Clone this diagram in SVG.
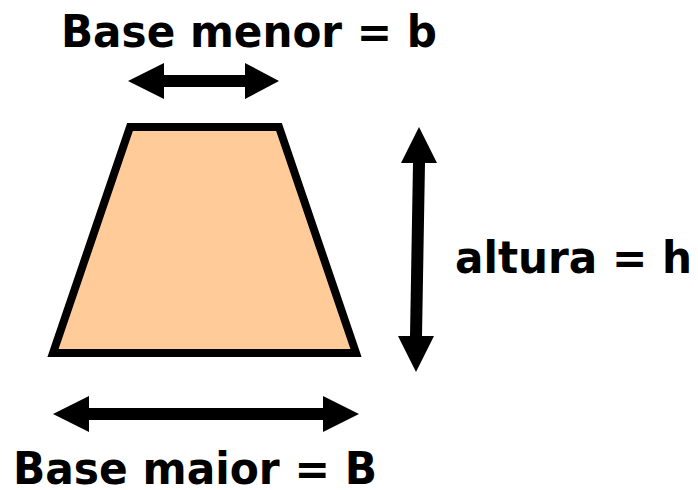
<svg xmlns="http://www.w3.org/2000/svg" width="698" height="490" viewBox="0 0 698 490">
<style>
.lbl{font-family:"DejaVu Sans","Liberation Sans",sans-serif;font-weight:bold;font-size:45px;fill:#000}
.arr{fill:#000;stroke:none}
</style>
<rect width="698" height="490" fill="#fff"/>
<g id="trapezio">
<polygon points="130,127 279,127 356,353 53,353" fill="#FFCC99" stroke="#000" stroke-width="8" stroke-linejoin="miter"/>
</g>
<g id="label-base-menor">
<text class="lbl" x="61" y="47" textLength="376" lengthAdjust="spacingAndGlyphs">Base menor = b</text>
</g>
<g id="label-altura">
<text class="lbl" x="455" y="273" textLength="237" lengthAdjust="spacingAndGlyphs">altura = h</text>
</g>
<g id="label-base-maior">
<text class="lbl" x="13" y="484" textLength="364" lengthAdjust="spacingAndGlyphs">Base maior = B</text>
</g>
<g id="connectors">
<polygon class="arr" points="128,81 164,63 164,75 245,75 245,63 279,81 245,99 245,87 164,87 164,99"/>
<polygon class="arr" points="53,414 89,396 89,408 323,408 323,396 359,414 323,432 323,420 89,420 89,432"/>
<polygon class="arr" points="419,127 437,163 425,163 422,336 434,336 416,372 398,336 410,336 413,163 401,163"/>
</g>
</svg>
